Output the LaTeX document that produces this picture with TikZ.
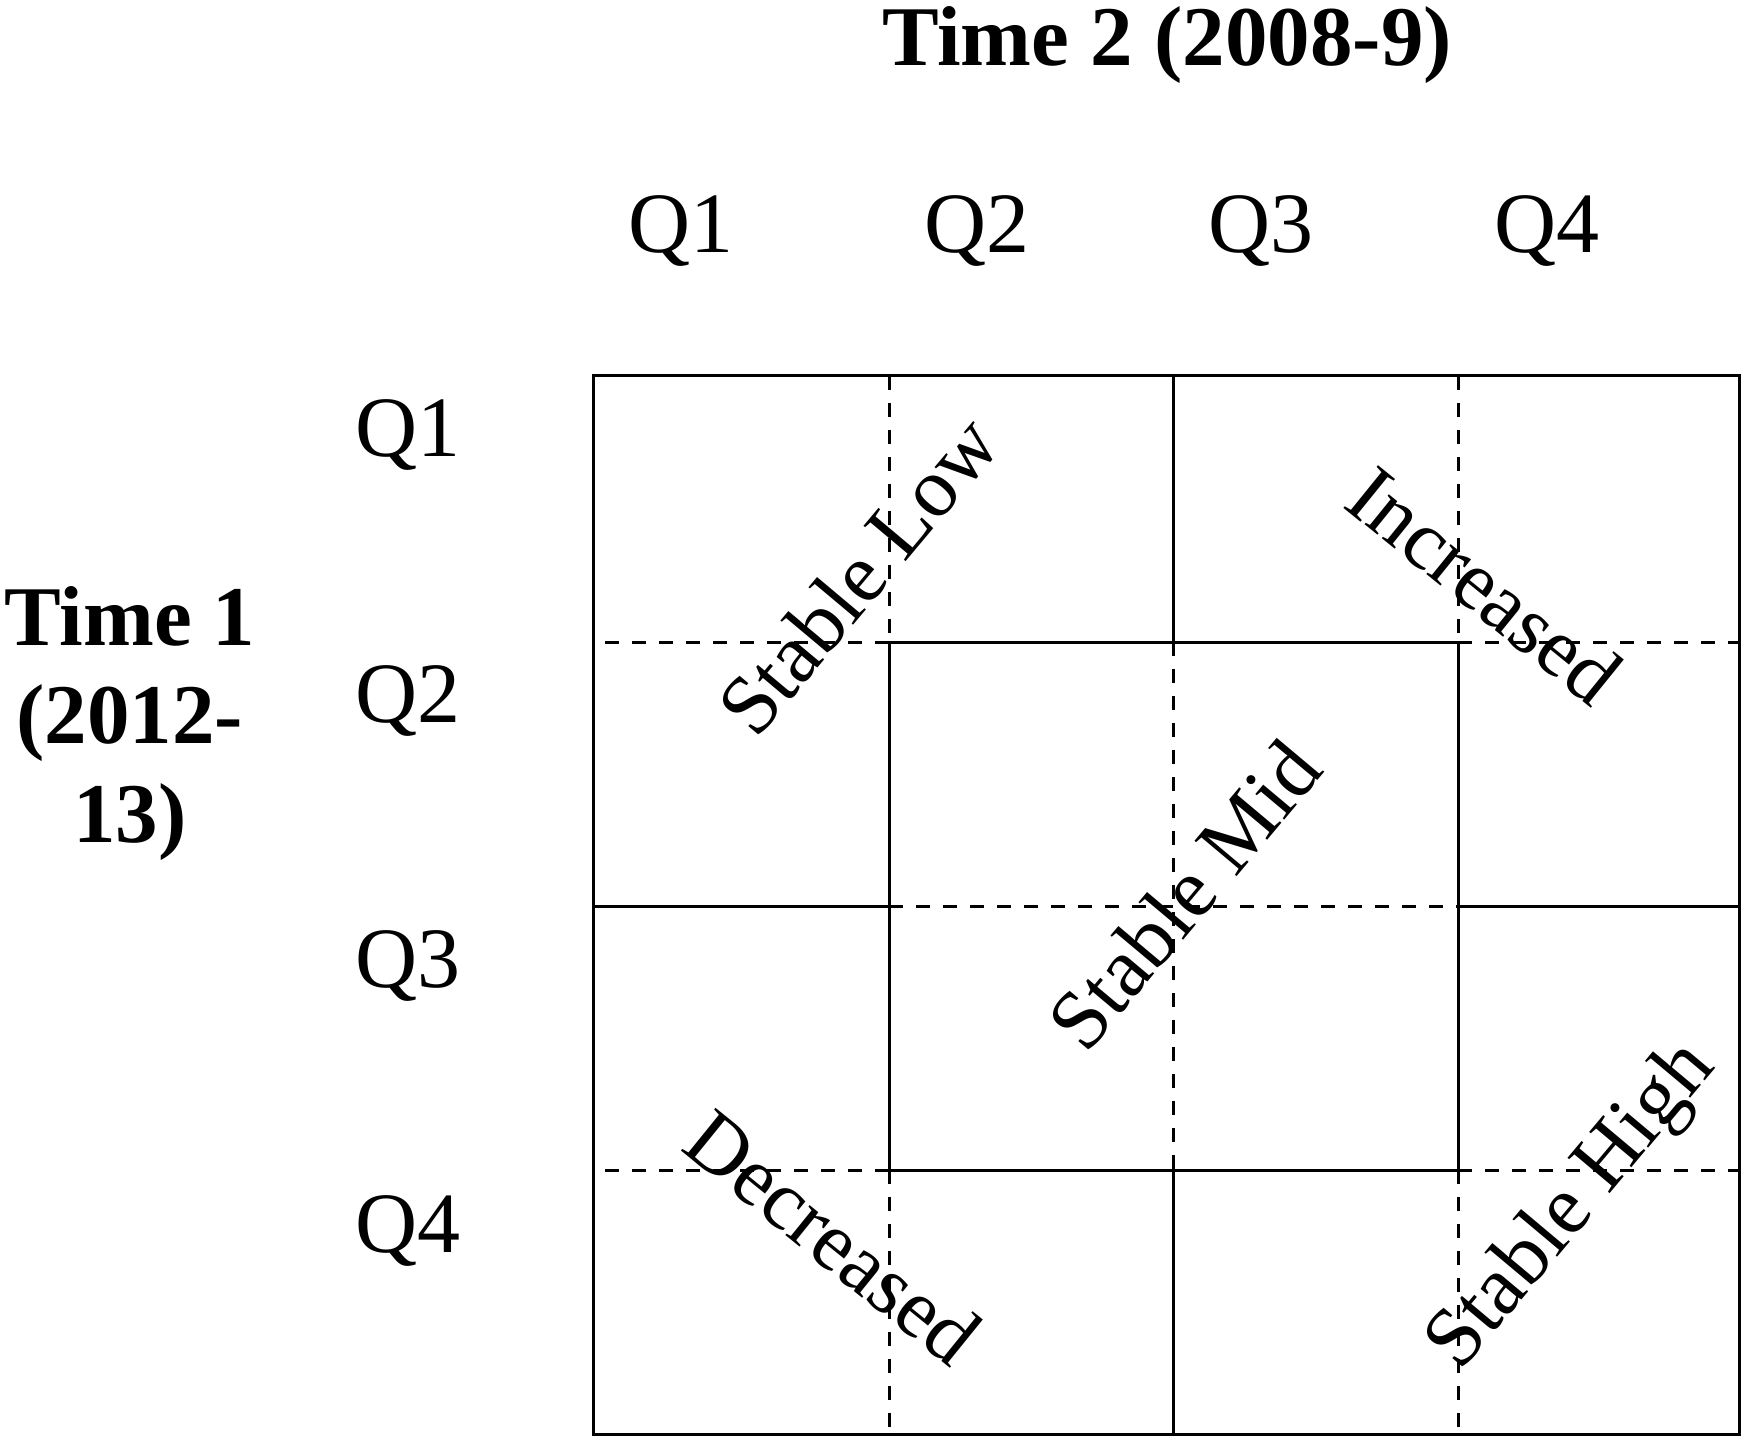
\documentclass[tikz,border=0pt]{standalone}
\usepackage{fontspec}
\setmainfont{Liberation Serif}
\begin{document}
\begin{tikzpicture}[x=0.5pt,y=-0.5pt,
  solidline/.style={line width=1.5pt},
  dashline/.style={line width=1.5pt, dash pattern=on 7pt off 6.5pt},
  qlab/.style={anchor=base, inner sep=0pt, font=\fontsize{43}{50}\selectfont},
  boldlab/.style={anchor=base, inner sep=0pt, font=\fontsize{42.5}{49}\selectfont\bfseries},
  diaglab/.style={anchor=center, inner sep=0pt, font=\fontsize{42}{48}\selectfont}
]
\useasboundingbox (0,0) rectangle (1750,1444);

% grid coordinates
\coordinate (g00) at (593,376);
\coordinate (g44) at (1739,1434);

% solid lines
\draw[solidline] (593,376) rectangle (1739,1434);
\draw[solidline] (889,642) rectangle (1458,1170);
\draw[solidline] (1173,376) -- (1173,642);
\draw[solidline] (1173,1170) -- (1173,1434);
\draw[solidline] (593,906) -- (889,906);
\draw[solidline] (1458,906) -- (1739,906);

% dashed lines
\draw[dashline] (889,376) -- (889,642);
\draw[dashline] (889,1170) -- (889,1434);
\draw[dashline] (1458,376) -- (1458,642);
\draw[dashline] (1458,1170) -- (1458,1434);
\draw[dashline] (889,642) -- (593,642);
\draw[dashline] (1458,642) -- (1739,642);
\draw[dashline] (889,1170) -- (593,1170);
\draw[dashline] (1458,1170) -- (1739,1170);
\draw[dashline] (1173,642) -- (1173,1170);
\draw[dashline] (889,906) -- (1458,906);

% titles
\node[boldlab] (time2) at (1167,66) {Time 2 (2008-9)};
\node[boldlab] (time1a) at (130,645) {Time 1};
\node[boldlab] (time1b) at (130,743) {(2012-};
\node[boldlab] (time1c) at (130,842) {13)};

% column labels
\node[qlab] (c1) at (681,253) {Q1};
\node[qlab] (c2) at (977,253) {Q2};
\node[qlab] (c3) at (1261,253) {Q3};
\node[qlab] (c4) at (1547,253) {Q4};

% row labels
\node[qlab] (r1) at (408,457) {Q1};
\node[qlab] (r2) at (408,722) {Q2};
\node[qlab] (r3) at (408,987) {Q3};
\node[qlab] (r4) at (408,1252) {Q4};

% diagonal labels
\node[diaglab, rotate=50] (slow) at (858,575) {Stable Low};
\node[diaglab, rotate=-39] (inc) at (1485,585) {Increased};
\node[diaglab, rotate=50] (smid) at (1184,895) {Stable Mid};
\node[diaglab, rotate=-39] (dec) at (833,1237) {Decreased};
\node[diaglab, rotate=50] (shigh) at (1573,1207) {Stable High};
\end{tikzpicture}
\end{document}
